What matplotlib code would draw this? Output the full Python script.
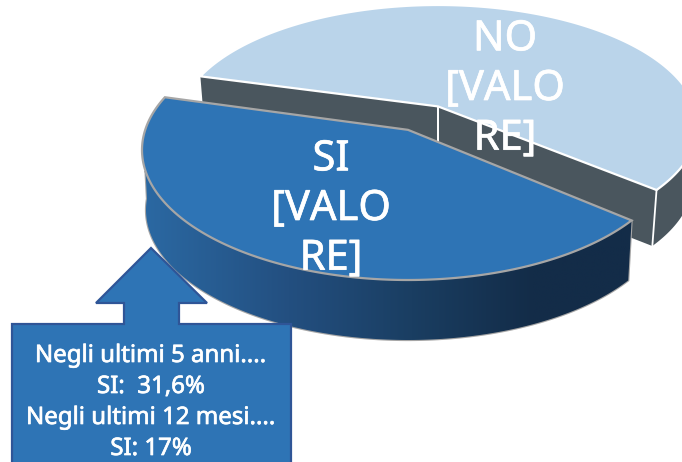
#!/usr/bin/env python3
"""Exploded perspective pie with a callout box."""

import matplotlib

matplotlib.use("Agg")

import matplotlib.patheffects as pe
import matplotlib.pyplot as plt
import numpy as np
from matplotlib.colors import LinearSegmentedColormap
from matplotlib.patches import Polygon

categories = ["SI", "NO"]
shares = [43.2, 56.8]
slice_labels = ["SI\n[VALO\nRE]", "NO\n[VALO\nRE]"]
callout_lines = ["Negli ultimi 5 anni....", "SI:  31,6%", "Negli ultimi 12 mesi....", "SI: 17%"]

START_ANGLE = 40.0
PERSPECTIVE = -0.155
FONT = "Noto Sans"


def project(theta, cx, cy, a, b, radius=1.0):
    """Map disc points to the image so that the rim stays an ellipse."""
    u = radius * np.cos(theta)
    v = radius * np.sin(theta)
    k = PERSPECTIVE
    den = 1 + k * v
    x = cx + a * u * np.sqrt(1 - k**2) / den
    y = cy + b * (v + k) / den
    return np.column_stack([x, y])


def arc(start, stop, n=160):
    return np.radians(np.linspace(start, stop, n))


spans = np.array(shares) / sum(shares) * 360
si_start, si_stop = START_ANGLE, START_ANGLE + spans[0]
no_start, no_stop = si_stop, si_stop + spans[1]

SI_TOP = (408, 150, 266, 130)
SI_BOT = (408, 210, 262, 130)
NO_TOP = (438, 125, 260, 120)
NO_BOT = (438, 181, 255, 120)

fig = plt.figure(figsize=(6.82, 4.62), dpi=100)
ax = fig.add_axes([0, 0, 1, 1])
ax.set_axis_off()

# NO slice: cut faces and outer wall first, then the top
no_apex = project(np.array([0.0]), *NO_TOP, radius=0.0)
no_apex_b = project(np.array([0.0]), *NO_BOT, radius=0.0)
wall_col = "#4a565e"
for ang in (no_start, no_stop):
    top = project(np.radians([ang]), *NO_TOP)
    bot = project(np.radians([ang]), *NO_BOT)
    ax.add_patch(Polygon(np.vstack([no_apex, top, bot, no_apex_b]), fc=wall_col, ec="none", zorder=1))
    ax.plot([no_apex[0, 0], no_apex_b[0, 0]], [no_apex[0, 1], no_apex_b[0, 1]], color="white", lw=1.3, zorder=2)
outer = arc(no_stop - 60, no_stop)
ax.add_patch(Polygon(np.vstack([project(outer, *NO_TOP), project(outer[::-1], *NO_BOT)]), fc=wall_col, ec="none", zorder=1))
corner = np.radians([no_stop])
corner_line = np.vstack([project(corner, *NO_TOP), project(corner, *NO_BOT)])
ax.plot(corner_line[:, 0], corner_line[:, 1], color="white", lw=1.3, zorder=2)
no_top = np.vstack([no_apex, project(arc(no_start, no_stop, 300), *NO_TOP)])
ax.add_patch(Polygon(no_top, fc="#bad4ea", ec="white", lw=1.6, zorder=3))

# SI slice: gradient outer wall, then the top
wall = np.vstack([project(arc(si_start, 162), *SI_TOP), project(arc(176, si_start), *SI_BOT)])
wall_patch = Polygon(wall, fc="none", ec="#a6a6a6", lw=1.6, zorder=4)
ax.add_patch(wall_patch)
wall_cmap = LinearSegmentedColormap.from_list(
    "si_wall",
    [(0.0, "#2b69a3"), (0.3, "#234f80"), (0.55, "#1a3e62"), (0.8, "#132c48"), (1.0, "#132c48")],
)
img = ax.imshow(
    np.linspace(0, 1, 256).reshape(1, -1),
    extent=(142, 632, 345, 150),
    cmap=wall_cmap,
    aspect="auto",
    zorder=4,
)
img.set_clip_path(wall_patch)
si_apex = project(np.array([0.0]), *SI_TOP, radius=0.0)
si_top = np.vstack([si_apex, project(arc(si_start, si_stop, 300), *SI_TOP)])
ax.add_patch(Polygon(si_top, fc="#2e74b5", ec="#a6a6a6", lw=1.6, zorder=5))

weight = [pe.withStroke(linewidth=0.5, foreground="white")]
ax.text(331, 209, slice_labels[0], color="white", fontsize=30, family=FONT, ha="center", va="center",
        linespacing=1.24, zorder=8, path_effects=weight)
ax.text(505, 89, slice_labels[1], color="white", fontsize=30, family=FONT, ha="center", va="center",
        linespacing=1.24, zorder=8, path_effects=weight)

# callout
callout = [(12, 470), (12, 324), (124, 324), (124, 303), (96, 303), (151, 248),
           (207, 303), (179, 303), (179, 324), (291, 324), (291, 470)]
ax.add_patch(Polygon(callout, fc="#2e74b5", ec="#2f5597", lw=1.6, zorder=6))
for line, y in zip(callout_lines, [356, 387, 418, 449]):
    ax.text(151, y, line, color="white", fontsize=17.3, family=FONT, ha="center", va="center", zorder=8,
            path_effects=weight)

ax.set_xlim(0, 682)
ax.set_ylim(462, 0)

fig.savefig("out.png", dpi=100, facecolor="white")
